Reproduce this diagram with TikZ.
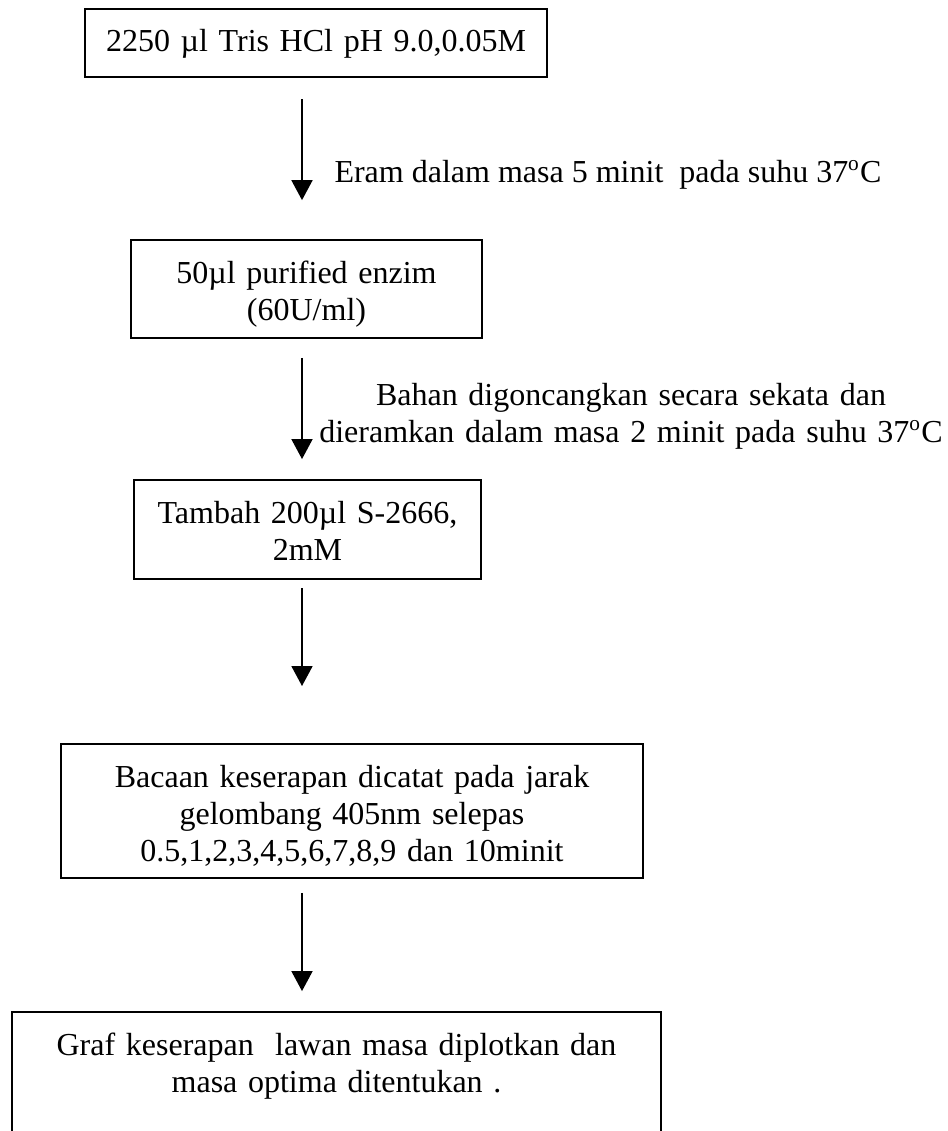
\documentclass[tikz,border=0pt]{standalone}
\usepackage{fontspec}
\setmainfont{Liberation Serif}
\usetikzlibrary{arrows.meta,positioning}
\tikzset{
  stepbox/.style={draw, line width=0.75pt, inner xsep=0pt, inner ysep=0pt,
    align=center, anchor=base, text height=16.1pt},
  flow/.style={line width=0.6pt, -{Triangle[width=7.9pt,length=7.5pt]}},
  note/.style={anchor=base, inner sep=0pt}
}
\begin{document}
\begin{tikzpicture}[x=0.375pt,y=-0.375pt,
    every node/.style={font=\fontsize{12}{13.9}\selectfont}]
  \useasboundingbox (0,0) rectangle (948,1131);
  \coordinate (spine) at (302,0);
  \node[stepbox, text width=173.25pt, text depth=9.4pt] (tris) at (316,52)
    {2250 µl Tris HCl pH 9.0,0.05M};
  \node[stepbox, text width=131.6pt, text depth=20.6pt] (enzim) at (306.5,283)
    {50µl purified enzim\\(60U/ml)};
  \node[stepbox, text width=130.1pt, text depth=21pt] (substrat) at (307.5,523)
    {Tambah 200µl S-2666,\\2mM};
  \node[stepbox, text width=218.25pt, text depth=34.1pt] (bacaan) at (352,787)
    {Bacaan keserapan dicatat pada jarak\\gelombang 405nm selepas\\0.5,1,2,3,4,5,6,7,8,9 dan 10minit};
  \node[stepbox, text width=243.4pt, text depth=41.25pt] (graf) at (336.5,1055)
    {Graf keserapan\ \ lawan masa diplotkan dan\\masa optima ditentukan .};
  \node[note, anchor=base west] (eram) at (334,182)
    {Eram dalam masa 5 minit\ \ pada suhu 37\textsuperscript{o}C};
  \node[note, text width=240pt, align=center] (goncang) at (631,405)
    {Bahan digoncangkan secara sekata dan\\dieramkan dalam masa 2 minit pada suhu 37\textsuperscript{o}C};
  \draw[flow, shorten <=7.9pt, shorten >=14.6pt] (tris.south -| spine) -- (enzim.north -| spine);
  \draw[flow, shorten <=7.1pt, shorten >=7.5pt] (enzim.south -| spine) -- (substrat.north -| spine);
  \draw[flow, shorten <=3pt, shorten >=21.4pt] (substrat.south -| spine) -- (bacaan.north -| spine);
  \draw[flow, shorten <=5.25pt, shorten >=7.5pt] (bacaan.south -| spine) -- (graf.north -| spine);
\end{tikzpicture}
\end{document}
